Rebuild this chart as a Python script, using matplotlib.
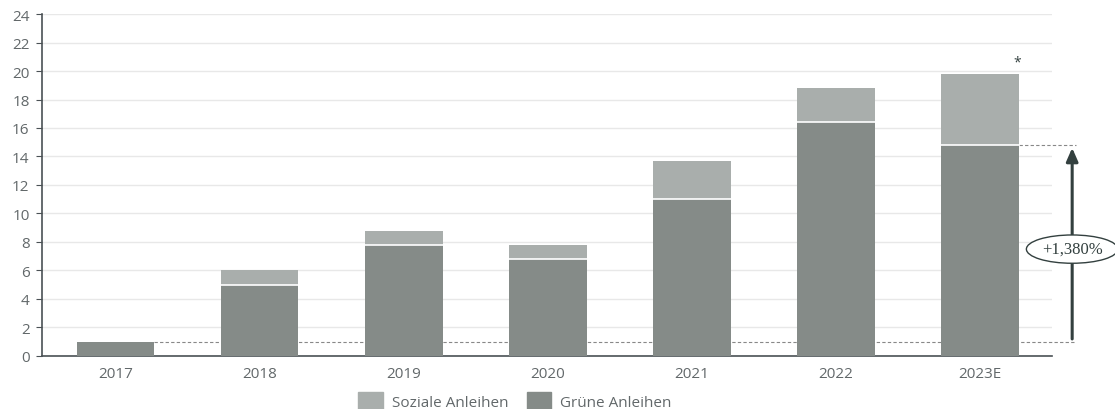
import matplotlib
matplotlib.use("Agg")
import matplotlib.pyplot as plt
from matplotlib.patches import Patch
import numpy as np

plt.rcParams['font.family'] = ['Open Sans', 'DejaVu Sans']

jahre = ['2017', '2018', '2019', '2020', '2021', '2022', '2023E']
gruene = [1.0, 5.0, 7.8, 6.8, 11.0, 16.4, 14.8]
soziale = [0.0, 1.0, 1.0, 1.0, 2.7, 2.4, 5.0]
wachstum_label = '+1,380%'

farbe_gruen = '#858b88'
farbe_sozial = '#a9aeac'
achse = '#4a5155'

fig = plt.figure(figsize=(11.15, 4.1), dpi=100)
ax = fig.add_axes([0.0377, 0.1293, 0.9058, 0.8341])

x = np.arange(len(jahre))
w = 0.54
ax.bar(x, gruene, w, color=farbe_gruen, zorder=3)
ax.bar(x, soziale, w, bottom=gruene, color=farbe_sozial, zorder=3)
# weisse Trennlinie zwischen den Segmenten
for i in range(1, len(jahre)):
    ax.plot([x[i] - w/2, x[i] + w/2], [gruene[i], gruene[i]], color='white', lw=1.2, zorder=4)

ax.set_xlim(-0.51, 6.5)
ax.set_ylim(0, 24)
ax.set_yticks(range(0, 25, 2))
ax.set_xticks(x)
ax.set_xticklabels(jahre)
ax.grid(axis='y', color='#e8e8e8', lw=1, zorder=0)
ax.tick_params(axis='both', colors='#62686a', labelsize=11, length=4)
ax.tick_params(axis='x', length=0, pad=7)
ax.tick_params(axis='y', color=achse, pad=5)
for s in ['top', 'right']:
    ax.spines[s].set_visible(False)
ax.spines['left'].set_color(achse)
ax.spines['bottom'].set_color(achse)
ax.spines['left'].set_linewidth(1.2)
ax.spines['bottom'].set_linewidth(1.2)

# gestrichelte Referenzlinien und Pfeil
xr = 6.64
ax.plot([x[0] + w/2, xr + 0.03], [gruene[0], gruene[0]], ls=(0, (3, 2)), color='#888888', lw=0.8, clip_on=False, zorder=2)
ax.plot([x[-1] + w/2, xr + 0.03], [gruene[-1], gruene[-1]], ls=(0, (3, 2)), color='#888888', lw=0.8, clip_on=False, zorder=2)
ax.annotate('', xy=(xr, gruene[-1]), xytext=(xr, gruene[0]),
            arrowprops=dict(arrowstyle='-|>,head_width=0.35,head_length=0.8', color='#33403f', lw=2.2),
            annotation_clip=False)
ax.text(xr, 7.5, wachstum_label, ha='center', va='center', fontsize=12, color='#33403f',
        family=['Liberation Serif', 'DejaVu Serif'], zorder=6, clip_on=False,
        bbox=dict(boxstyle='ellipse,pad=0.12', fc='white', ec='#33403f', lw=1))
ax.text(x[-1] + 0.26, 20.6, '*', ha='center', va='center', fontsize=10, color='#33403f')

handles = [Patch(color=farbe_sozial, label='Soziale Anleihen'),
           Patch(color=farbe_gruen, label='Grüne Anleihen')]
fig.legend(handles=handles, loc='lower center', bbox_to_anchor=(0.462, -0.035), ncol=2,
           frameon=False, fontsize=11, handlelength=1.6, handleheight=1.3,
           columnspacing=1.2, handletextpad=0.6, labelcolor='#62686a')

fig.savefig('out.png', dpi=100)
